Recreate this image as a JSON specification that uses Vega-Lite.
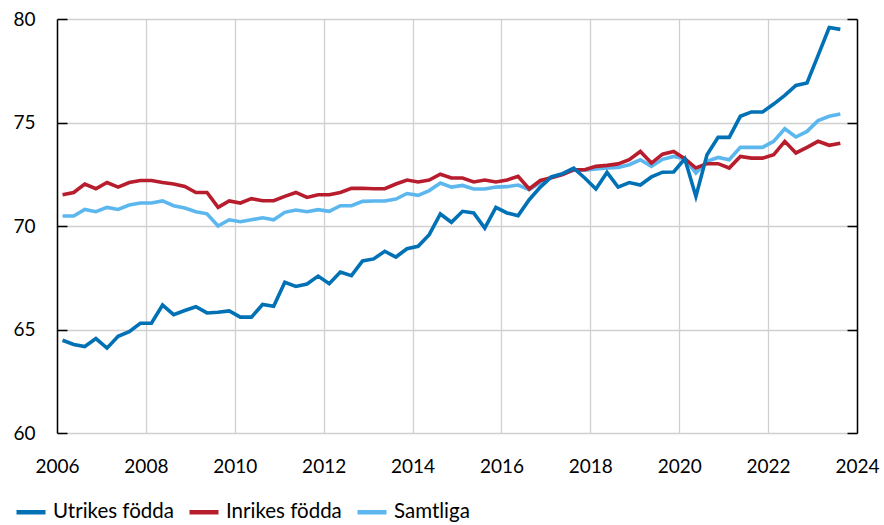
{
  "$schema": "https://vega.github.io/schema/vega-lite/v6.json",
  "width": 800,
  "height": 414,
  "autosize": {"type": "none"},
  "padding": {"left": 57, "top": 19, "right": 27, "bottom": 92},
  "background": "white",
  "config": {
    "view": {"stroke": null},
    "font": "Lato",
    "axis": {"labelFont": "Lato", "labelFontSize": 19, "labelColor": "#000000", "gridColor": "#d0d0d0", "gridWidth": 1.3, "title": null},
    "legend": {"labelFont": "Lato", "labelFontSize": 20.5, "labelColor": "#000000"}
  },
  "data": {"values": [
    {"t": 2006.125, "u": 64.48, "n": 71.51, "s": 70.48},
    {"t": 2006.375, "u": 64.28, "n": 71.62, "s": 70.48},
    {"t": 2006.625, "u": 64.18, "n": 72.03, "s": 70.8},
    {"t": 2006.875, "u": 64.56, "n": 71.8, "s": 70.69},
    {"t": 2007.125, "u": 64.1, "n": 72.1, "s": 70.9},
    {"t": 2007.375, "u": 64.67, "n": 71.88, "s": 70.8},
    {"t": 2007.625, "u": 64.9, "n": 72.1, "s": 71.01},
    {"t": 2007.875, "u": 65.3, "n": 72.2, "s": 71.11},
    {"t": 2008.125, "u": 65.3, "n": 72.2, "s": 71.11},
    {"t": 2008.375, "u": 66.18, "n": 72.1, "s": 71.21},
    {"t": 2008.625, "u": 65.72, "n": 72.03, "s": 70.98},
    {"t": 2008.875, "u": 65.92, "n": 71.91, "s": 70.87},
    {"t": 2009.125, "u": 66.1, "n": 71.62, "s": 70.69},
    {"t": 2009.375, "u": 65.8, "n": 71.62, "s": 70.59},
    {"t": 2009.625, "u": 65.83, "n": 70.9, "s": 70.0},
    {"t": 2009.875, "u": 65.9, "n": 71.21, "s": 70.3},
    {"t": 2010.125, "u": 65.6, "n": 71.11, "s": 70.21},
    {"t": 2010.375, "u": 65.6, "n": 71.32, "s": 70.3},
    {"t": 2010.625, "u": 66.21, "n": 71.22, "s": 70.4},
    {"t": 2010.875, "u": 66.12, "n": 71.22, "s": 70.3},
    {"t": 2011.125, "u": 67.28, "n": 71.43, "s": 70.66},
    {"t": 2011.375, "u": 67.08, "n": 71.62, "s": 70.77},
    {"t": 2011.625, "u": 67.2, "n": 71.38, "s": 70.69},
    {"t": 2011.875, "u": 67.58, "n": 71.51, "s": 70.79},
    {"t": 2012.125, "u": 67.21, "n": 71.51, "s": 70.71},
    {"t": 2012.375, "u": 67.78, "n": 71.62, "s": 70.98},
    {"t": 2012.625, "u": 67.6, "n": 71.82, "s": 70.98},
    {"t": 2012.875, "u": 68.31, "n": 71.82, "s": 71.19},
    {"t": 2013.125, "u": 68.41, "n": 71.8, "s": 71.21},
    {"t": 2013.375, "u": 68.78, "n": 71.8, "s": 71.21},
    {"t": 2013.625, "u": 68.5, "n": 72.03, "s": 71.3},
    {"t": 2013.875, "u": 68.9, "n": 72.22, "s": 71.57},
    {"t": 2014.125, "u": 69.02, "n": 72.13, "s": 71.48},
    {"t": 2014.375, "u": 69.58, "n": 72.22, "s": 71.71},
    {"t": 2014.625, "u": 70.58, "n": 72.5, "s": 72.08},
    {"t": 2014.875, "u": 70.18, "n": 72.32, "s": 71.88},
    {"t": 2015.125, "u": 70.71, "n": 72.32, "s": 71.96},
    {"t": 2015.375, "u": 70.63, "n": 72.13, "s": 71.79},
    {"t": 2015.625, "u": 69.9, "n": 72.22, "s": 71.79},
    {"t": 2015.875, "u": 70.9, "n": 72.13, "s": 71.88},
    {"t": 2016.125, "u": 70.63, "n": 72.22, "s": 71.9},
    {"t": 2016.375, "u": 70.5, "n": 72.4, "s": 71.98},
    {"t": 2016.625, "u": 71.27, "n": 71.79, "s": 71.75},
    {"t": 2016.875, "u": 71.88, "n": 72.2, "s": 72.1},
    {"t": 2017.125, "u": 72.37, "n": 72.33, "s": 72.37},
    {"t": 2017.375, "u": 72.53, "n": 72.48, "s": 72.5},
    {"t": 2017.625, "u": 72.8, "n": 72.72, "s": 72.69},
    {"t": 2017.875, "u": 72.32, "n": 72.72, "s": 72.69},
    {"t": 2018.125, "u": 71.79, "n": 72.88, "s": 72.75},
    {"t": 2018.375, "u": 72.59, "n": 72.93, "s": 72.8},
    {"t": 2018.625, "u": 71.88, "n": 73.0, "s": 72.83},
    {"t": 2018.875, "u": 72.1, "n": 73.2, "s": 72.96},
    {"t": 2019.125, "u": 71.98, "n": 73.6, "s": 73.2},
    {"t": 2019.375, "u": 72.37, "n": 73.04, "s": 72.88},
    {"t": 2019.625, "u": 72.6, "n": 73.47, "s": 73.22},
    {"t": 2019.875, "u": 72.61, "n": 73.6, "s": 73.36},
    {"t": 2020.125, "u": 73.25, "n": 73.25, "s": 73.25},
    {"t": 2020.375, "u": 71.43, "n": 72.8, "s": 72.56},
    {"t": 2020.625, "u": 73.44, "n": 73.01, "s": 73.12},
    {"t": 2020.875, "u": 74.28, "n": 73.01, "s": 73.31},
    {"t": 2021.125, "u": 74.28, "n": 72.8, "s": 73.2},
    {"t": 2021.375, "u": 75.3, "n": 73.36, "s": 73.8},
    {"t": 2021.625, "u": 75.51, "n": 73.28, "s": 73.8},
    {"t": 2021.875, "u": 75.51, "n": 73.28, "s": 73.8},
    {"t": 2022.125, "u": 75.89, "n": 73.44, "s": 74.09},
    {"t": 2022.375, "u": 76.31, "n": 74.09, "s": 74.7},
    {"t": 2022.625, "u": 76.79, "n": 73.53, "s": 74.3},
    {"t": 2022.875, "u": 76.91, "n": 73.8, "s": 74.57},
    {"t": 2023.125, "u": 78.24, "n": 74.09, "s": 75.09},
    {"t": 2023.375, "u": 79.59, "n": 73.9, "s": 75.3},
    {"t": 2023.625, "u": 79.5, "n": 74.0, "s": 75.41}
  ]},
  "encoding": {
    "x": {
      "field": "t", "type": "quantitative",
      "scale": {"domain": [2006, 2024], "nice": false, "zero": false},
      "axis": {"values": [2006, 2008, 2010, 2012, 2014, 2016, 2018, 2020, 2022, 2024], "format": "d", "domain": false, "ticks": false, "labelPadding": 24, "labelFlush": false, "labelOverlap": false, "grid": true}
    }
  },
  "layer": [
    {
      "mark": {"type": "line", "strokeWidth": 3.6, "strokeJoin": "miter"},
      "encoding": {
        "y": {"field": "s", "type": "quantitative", "scale": {"domain": [60, 80], "nice": false, "zero": false},
          "axis": {"orient": "left", "values": [60, 65, 70, 75, 80], "grid": true, "domain": true, "domainColor": "#000000", "domainWidth": 1.5, "ticks": true, "tickSize": -10, "tickColor": "#000000", "tickWidth": 1.5, "labelPadding": 32}},
        "color": {"datum": "Samtliga", "type": "nominal",
          "scale": {"domain": ["Utrikes födda", "Inrikes födda", "Samtliga"], "range": ["#0071b5", "#b81d2e", "#5db7ef"]},
          "legend": {"title": null, "orient": "none", "legendX": -43, "legendY": 476, "direction": "horizontal", "symbolType": "stroke", "symbolSize": 841, "symbolStrokeWidth": 4.5, "labelOffset": 5, "columnPadding": 6}}
      }
    },
    {
      "mark": {"type": "line", "strokeWidth": 3.6, "strokeJoin": "miter"},
      "encoding": {
        "y": {"field": "n", "type": "quantitative", "axis": null},
        "color": {"datum": "Inrikes födda", "type": "nominal"}
      }
    },
    {
      "mark": {"type": "line", "strokeWidth": 3.6, "strokeJoin": "miter"},
      "encoding": {
        "y": {"field": "u", "type": "quantitative",
          "axis": {"orient": "right", "values": [60, 65, 70, 75, 80], "grid": false, "labels": false, "domain": true, "domainColor": "#000000", "domainWidth": 1.5, "ticks": true, "tickSize": -10, "tickColor": "#000000", "tickWidth": 1.5}},
        "color": {"datum": "Utrikes födda", "type": "nominal"}
      }
    }
  ],
  "resolve": {"axis": {"y": "independent"}}
}
